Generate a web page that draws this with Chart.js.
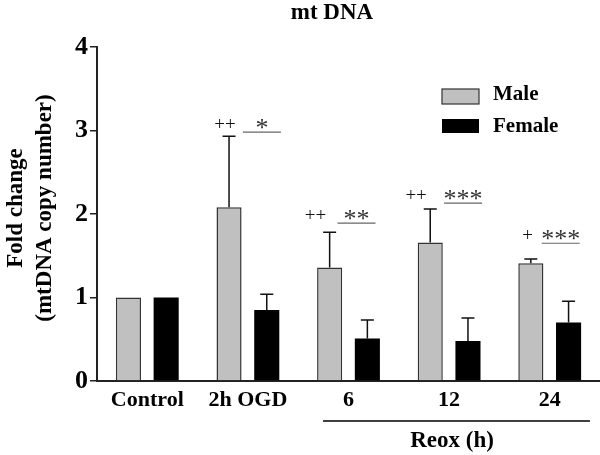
<!DOCTYPE html>
<html>
<head>
<meta charset="utf-8">
<script src="https://cdn.jsdelivr.net/npm/chart.js@4/dist/chart.umd.min.js"></script>
<style>
  html, body { margin: 0; padding: 0; background: #fff; }
  #wrap { width: 600px; height: 455px; position: relative; }
</style>
</head>
<body>
<div id="wrap"><canvas id="chart"></canvas></div>
<script>
//---------------------------- DATA ----------------------------//
const categories = ['Control', '2h OGD', '6', '12', '24'];
const maleMean = [1.0, 2.08, 1.36, 1.66, 1.41];
const maleErr = [0, 0.85, 0.42, 0.40, 0.05];
const femaleMean = [1.0, 0.85, 0.51, 0.48, 0.70];
const femaleErr = [0, 0.19, 0.22, 0.275, 0.255];
const yTicks = [0, 1, 2, 3, 4];
// significance marks (male vs control, male vs female) and bracket heights
const plusMarks = ['', '++', '++', '++', '+'];
const starMarks = ['', '*', '**', '***', '***'];
const sigLevel = [null, 2.98, 1.89, 2.13, 1.65];

const SERIF = '"Liberation Serif", "DejaVu Serif", serif';

//------------------------- OVERLAY PLUGIN ----------------------//
const overlay = {
    id: 'overlay',
    afterDatasetsDraw(chart) {
        const ctx = chart.ctx;
        const xs = chart.scales.x;
        const ys = chart.scales.y;

        // error bars (upper only)
        const drawErr = (dsIndex, means, errs) => {
            const meta = chart.getDatasetMeta(dsIndex);
            meta.data.forEach((bar, i) => {
                if (!errs[i]) return;
                const top = ys.getPixelForValue(means[i] + errs[i]);
                ctx.save();
                ctx.strokeStyle = '#111';
                ctx.lineWidth = 1.5;
                ctx.beginPath();
                ctx.moveTo(bar.x, bar.y);
                ctx.lineTo(bar.x, top);
                ctx.moveTo(bar.x - 6.5, top);
                ctx.lineTo(bar.x + 6.5, top);
                ctx.stroke();
                ctx.restore();
            });
        };
        drawErr(0, maleMean, maleErr);
        drawErr(1, femaleMean, femaleErr);

        // significance marks
        const plusOffset = [0, -23, -33, -33, -22];
        const starOffset = [0, 14, 8, 14, 11];
        sigLevel.forEach((lv, i) => {
            if (lv === null) return;
            const cx = xs.getPixelForValue(i);
            const y = ys.getPixelForValue(lv);
            const sx = cx + starOffset[i];
            ctx.save();
            ctx.strokeStyle = '#666';
            ctx.lineWidth = 1.2;
            ctx.beginPath();
            ctx.moveTo(sx - 19, y);
            ctx.lineTo(sx + 19, y);
            ctx.stroke();
            ctx.fillStyle = '#111';
            ctx.textAlign = 'center';
            ctx.textBaseline = 'middle';
            ctx.font = '19px ' + SERIF;
            ctx.fillText(plusMarks[i], cx + plusOffset[i], y - 7);
            ctx.fillStyle = '#333';
            ctx.font = '26px ' + SERIF;
            ctx.fillText(starMarks[i], sx, y - 3);
            ctx.restore();
        });

        // title
        ctx.save();
        ctx.fillStyle = '#000';
        ctx.textAlign = 'center';
        ctx.textBaseline = 'middle';
        ctx.font = 'bold 23px ' + SERIF;
        ctx.fillText('mt DNA', 332, 13);

        // y axis title
        ctx.font = 'bold 23px ' + SERIF;
        ctx.save();
        ctx.translate(16, 208);
        ctx.rotate(-Math.PI / 2);
        ctx.fillText('Fold change', 0, 0);
        ctx.restore();
        ctx.save();
        ctx.translate(45, 208);
        ctx.rotate(-Math.PI / 2);
        ctx.fillText('(mtDNA copy number)', 0, 0);
        ctx.restore();

        // Reox bracket
        ctx.strokeStyle = '#000';
        ctx.lineWidth = 1.5;
        ctx.beginPath();
        ctx.moveTo(323, 421);
        ctx.lineTo(590, 421);
        ctx.stroke();
        ctx.font = 'bold 23px ' + SERIF;
        ctx.fillText('Reox (h)', 452, 441);

        // legend
        ctx.fillStyle = '#c0c0c0';
        ctx.fillRect(442, 89, 37, 15);
        ctx.strokeStyle = '#333';
        ctx.lineWidth = 1.2;
        ctx.strokeRect(442, 89, 37, 15);
        ctx.fillStyle = '#000';
        ctx.fillRect(442, 119, 37, 14);
        ctx.textAlign = 'left';
        ctx.font = 'bold 21px ' + SERIF;
        ctx.fillText('Male', 493, 95);
        ctx.fillText('Female', 493, 127);
        ctx.restore();
    }
};

//--------------------------- CHART ----------------------------//
const ctx = document.getElementById('chart').getContext('2d');
new Chart(ctx, {
    type: 'bar',
    data: {
        labels: categories,
        datasets: [
            {
                label: 'Male',
                data: maleMean,
                backgroundColor: '#c0c0c0',
                borderColor: '#333',
                borderWidth: 1.5,
                categoryPercentage: 0.75,
                barPercentage: 0.665
            },
            {
                label: 'Female',
                data: femaleMean,
                backgroundColor: '#000',
                borderColor: '#000',
                borderWidth: 0,
                categoryPercentage: 0.75,
                barPercentage: 0.665
            }
        ]
    },
    options: {
        responsive: true,
        maintainAspectRatio: false,
        animation: false,
        layout: { padding: { top: 47, right: 0, left: 0, bottom: 0 } },
        plugins: {
            legend: { display: false },
            tooltip: { enabled: false }
        },
        scales: {
            x: {
                afterFit: s => { s.height = 74; },
                grid: { display: false, drawTicks: false },
                border: { display: true, color: '#222', width: 2 },
                ticks: {
                    color: '#000',
                    padding: 6,
                    font: { family: SERIF, size: 22, weight: 'bold' }
                }
            },
            y: {
                min: 0,
                max: 4,
                afterFit: s => { s.width = 97; },
                afterBuildTicks: s => { s.ticks = yTicks.map(v => ({ value: v })); },
                grid: { drawOnChartArea: false, drawTicks: true, tickLength: 7, color: '#222', lineWidth: 1.5 },
                border: { display: true, color: '#222', width: 2 },
                ticks: {
                    color: '#000',
                    padding: 2,
                    font: { family: SERIF, size: 26, weight: 'bold' }
                }
            }
        }
    },
    plugins: [overlay]
});
</script>
</body>
</html>
